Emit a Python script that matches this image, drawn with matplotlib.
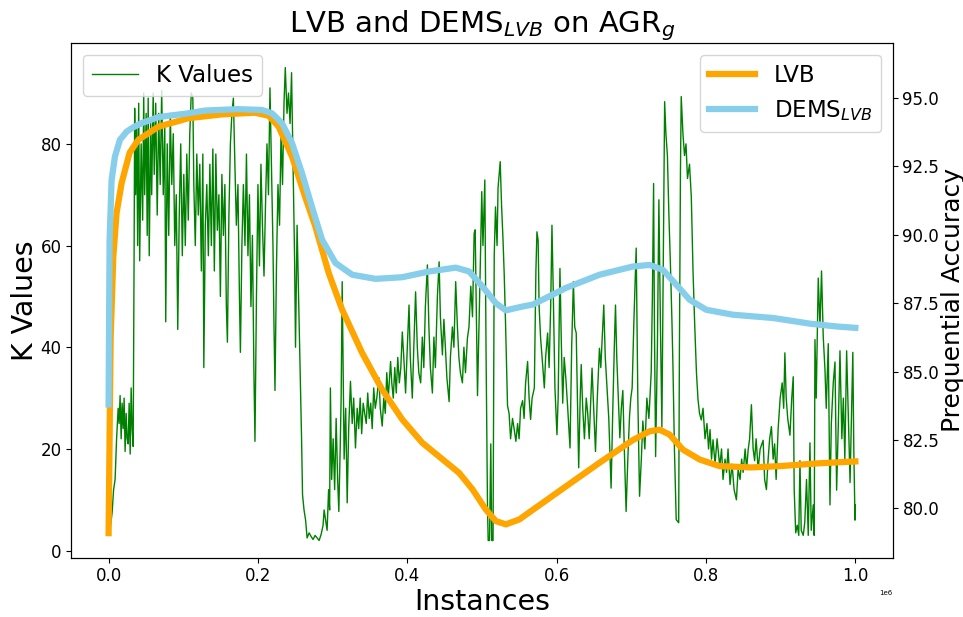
import matplotlib
matplotlib.use('Agg')
import matplotlib.pyplot as plt
import numpy as np

# K value trace: (instances in thousands, K)
k_points = [
    (2.7, 5.0), (4.7, 7.5), (6.7, 12), (8.7, 14), (10.7, 22), (12.8, 28), (14.1, 25), (15.4, 30.5),
    (16.8, 22), (18.1, 29), (19.5, 24), (20.8, 30), (22.1, 19.5), (23.5, 27), (24.8, 22), (26.2, 21),
    (27.5, 29), (28.9, 19), (30.2, 32), (31.5, 24), (32.9, 20.5), (34.2, 60), (34.9, 87), (36.2, 70),
    (37.6, 84), (38.9, 60), (40.3, 88), (41.6, 57), (43.6, 80), (45.6, 65), (47.0, 90), (48.3, 70),
    (50.3, 86), (51.7, 62), (53.0, 89), (54.4, 58), (56.4, 84), (57.7, 70), (59.7, 90), (61.1, 74),
    (63.1, 88), (65.1, 66), (67.1, 86), (69.1, 72), (71.1, 90.5), (73.2, 70), (75.2, 84), (76.5, 45),
    (78.5, 80), (80.5, 62), (82.6, 86), (84.6, 72), (86.6, 82), (88.6, 60), (90.6, 70), (92.6, 43.5),
    (94.6, 66), (96.6, 80), (98.7, 58), (100.7, 74), (102.7, 60), (104.7, 78), (106.7, 65), (108.7, 82),
    (110.7, 90), (112.8, 89), (114.1, 72), (116.1, 60), (118.1, 78), (120.1, 66), (122.1, 76), (124.2, 55),
    (126.2, 78), (127.5, 36), (129.5, 64), (131.5, 72), (133.6, 58), (135.6, 76), (137.6, 60), (139.6, 79),
    (141.6, 55), (143.6, 78), (145.6, 63), (147.7, 70), (149.7, 50), (151.7, 74), (153.7, 62), (155.7, 72),
    (157.7, 48), (159.1, 41), (161.1, 66), (163.1, 80), (165.1, 86), (167.1, 89), (169.1, 76), (171.1, 64),
    (173.2, 72), (175.2, 50), (176.5, 39), (178.5, 60), (180.5, 72), (182.6, 60), (184.6, 78), (186.6, 58),
    (188.6, 70), (190.6, 48), (192.6, 62), (194.6, 35), (196.0, 21.5), (198.0, 50), (200.0, 72), (202.0, 56),
    (204.0, 76), (206.0, 64), (208.1, 54), (210.1, 68), (212.1, 80), (214.1, 70), (216.1, 91), (218.1, 76),
    (220.1, 60), (221.5, 44), (222.8, 31.5), (224.8, 56), (226.8, 72), (228.9, 64), (230.9, 82), (232.9, 72),
    (234.9, 88), (236.6, 95), (238.9, 86), (240.9, 90), (243.0, 84), (245.0, 94), (247.0, 76), (249.0, 58),
    (250.3, 40), (252.4, 64), (254.4, 50), (256.4, 35), (258.4, 22), (259.7, 11), (261.7, 8), (263.8, 6),
    (265.8, 2.5), (268.5, 3.5), (271.1, 2.8), (273.8, 2.2), (276.5, 3.0), (279.2, 2.5), (281.9, 2.0), (284.6, 3.2),
    (287.2, 5), (288.6, 8), (290.6, 6), (292.6, 4), (294.6, 12), (296.0, 8), (297.0, 32), (298.7, 14),
    (300.7, 22), (302.7, 12), (304.7, 26), (306.7, 14), (308.3, 7.7), (310.1, 20), (311.4, 30), (312.8, 52.9),
    (314.1, 35), (315.4, 18), (317.5, 28), (319.5, 9.4), (321.5, 24), (323.9, 33.3), (326.2, 25), (328.2, 30),
    (330.6, 20.2), (332.9, 28), (334.9, 24), (336.9, 30), (338.9, 23), (340.9, 29), (343.0, 27), (345.0, 25),
    (347.0, 31), (349.0, 26), (351.0, 29), (353.0, 24), (355.0, 32), (357.1, 28), (359.1, 30), (362.0, 34),
    (363.8, 28), (366.4, 24.5), (368.5, 30), (370.5, 27), (372.5, 35), (374.5, 30), (377.6, 37.2), (379.2, 33),
    (381.2, 30), (383.2, 36), (385.2, 31), (387.2, 38), (389.3, 33), (391.3, 36), (393.3, 43), (395.3, 38),
    (397.7, 31), (400.0, 40), (402.3, 48.3), (404.0, 38), (406.7, 30), (408.7, 40), (411.1, 50.9), (413.4, 40),
    (415.4, 35), (417.9, 33), (420.1, 42), (422.1, 36), (424.2, 48), (426.9, 56.2), (428.9, 44), (430.9, 36),
    (433.6, 31), (435.6, 42), (437.6, 36), (440.3, 50), (442.6, 56.8), (444.3, 46), (447.0, 38.5), (449.0, 45.5),
    (451.0, 40), (453.0, 34), (456.0, 29.3), (457.7, 38), (460.4, 44), (462.4, 40), (464.8, 52.9), (467.1, 44),
    (469.1, 38), (471.1, 35), (473.8, 33), (475.8, 40), (477.9, 35), (480.5, 41.8), (482.6, 44), (485.0, 52),
    (487.3, 46), (489.5, 62.4), (490.9, 63.1), (492.6, 45), (494.0, 30.5), (496.0, 44), (498.0, 58), (499.7, 70.6),
    (501.3, 60), (503.8, 72.9), (505.4, 40), (507.4, 8.4), (508.3, 2.0), (510.1, 2.0), (511.8, 21), (513.0, 2.0),
    (514.8, 2.0), (516.4, 58), (518.1, 67.6), (520.2, 60), (521.5, 71.3), (524.4, 76.5), (526.2, 68), (528.2, 61),
    (529.8, 54.2), (531.5, 45), (534.2, 28.5), (536.3, 27), (538.3, 22), (540.9, 26), (543.0, 24), (545.4, 21.5),
    (547.7, 25), (549.7, 22), (551.7, 28), (554.4, 29.5), (556.4, 26), (558.4, 33), (561.1, 37.2), (563.1, 30),
    (565.1, 25.8), (567.1, 30), (570.1, 32), (572.2, 55), (573.6, 62.7), (575.2, 61), (576.5, 48), (578.5, 41.8),
    (580.5, 38), (583.5, 32), (585.2, 38), (587.9, 42.8), (589.9, 36), (592.0, 48), (593.7, 64), (595.3, 52),
    (597.7, 32), (600.4, 22.8), (602.0, 30), (604.4, 55.5), (606.1, 42), (608.1, 29), (610.1, 38), (612.5, 33.5),
    (614.8, 28), (617.9, 20.2), (620.1, 40), (622.4, 52.9), (624.2, 44), (626.2, 42.8), (629.5, 16.3), (631.5, 30),
    (632.9, 36.6), (634.9, 28), (637.2, 22), (639.6, 30), (641.6, 27), (643.6, 22), (647.4, 35.9), (649.0, 30),
    (652.0, 19.5), (654.4, 30), (657.3, 39.8), (659.1, 36), (661.1, 42), (663.1, 48.3), (665.1, 38), (667.1, 33),
    (669.8, 26), (672.9, 12.3), (675.2, 28), (677.2, 40), (678.8, 48.3), (680.5, 38), (682.6, 30), (684.6, 22.2),
    (686.6, 28), (688.6, 31.5), (690.6, 20), (693.0, 7.7), (695.3, 18), (697.6, 26.5), (699.3, 30), (701.1, 32),
    (703.4, 45), (706.5, 59.5), (708.7, 30), (711.0, 10.7), (713.4, 18), (715.4, 25.5), (718.1, 20), (720.8, 30),
    (723.5, 26), (726.6, 35), (728.2, 50), (729.8, 72.2), (730.9, 45), (732.5, 18.5), (734.9, 40), (736.9, 69),
    (738.9, 45), (740.9, 24.3), (742.9, 60), (744.6, 88.3), (746.3, 82), (748.3, 77.7), (750.3, 66), (752.4, 56),
    (754.4, 45), (755.7, 36.5), (757.7, 20), (760.1, 6.1), (763.4, 5.5), (764.4, 40), (765.8, 75), (766.8, 89.3),
    (769.1, 82), (771.2, 77.7), (773.2, 80), (775.2, 73.2), (777.9, 76), (780.3, 69.6), (782.6, 55), (784.8, 44.7),
    (787.2, 35), (789.3, 29.7), (791.3, 27), (793.7, 25.7), (796.0, 28), (798.7, 22), (801.3, 25), (803.4, 20),
    (805.4, 23.8), (807.4, 18), (809.4, 21.8), (812.1, 17), (814.8, 22), (818.4, 16.6), (820.8, 20), (822.8, 14),
    (825.5, 18), (827.5, 15.4), (829.5, 20), (832.2, 13), (834.9, 17), (837.6, 12), (840.7, 10), (843.0, 16),
    (845.6, 14), (847.7, 18), (849.7, 15.4), (852.4, 20), (854.4, 16), (856.4, 19.8), (858.4, 22), (860.8, 28.7),
    (863.1, 20), (865.1, 17.7), (867.1, 22), (869.8, 16), (872.5, 20), (876.5, 21.7), (878.5, 14), (880.9, 12),
    (883.2, 18), (885.2, 22), (887.6, 24.4), (889.9, 18), (891.9, 21), (893.9, 14), (896.6, 24), (899.3, 30),
    (902.0, 33), (904.0, 28), (905.6, 38.9), (907.4, 30), (909.4, 26), (912.4, 22.7), (914.8, 30), (916.8, 34.2),
    (918.1, 12), (920.1, 3.5), (922.2, 5), (924.2, 3), (925.8, 17.7), (927.5, 4), (930.2, 3), (932.2, 5.5),
    (934.6, 14), (936.9, 3), (939.2, 21.2), (940.9, 4), (943.6, 9), (944.9, 3), (945.9, 41.5), (947.6, 30),
    (950.3, 53.6), (952.6, 44), (954.7, 55), (957.0, 42), (959.3, 35.6), (961.0, 28), (963.7, 40.7), (966.0, 9),
    (967.8, 25), (970.4, 33), (972.7, 37.1), (974.9, 11.9), (977.2, 25), (979.4, 39.3), (981.9, 22), (983.9, 30),
    (985.9, 18), (988.3, 39.3), (990.6, 26), (992.9, 13.4), (995.3, 30), (996.6, 39), (997.9, 20), (999.5, 6),
    (1000.0, 9),
]

# prequential accuracy: (instances in thousands, accuracy %)
lvb_points = [
    (0, 79.1), (2.7, 86.2), (6.3, 89.2), (10.7, 90.8), (17.5, 91.9), (28.2, 93.0), (39.8, 93.47),
    (66.7, 93.95), (107, 94.26), (151.7, 94.4), (196, 94.46), (214.3, 94.35), (227.7, 93.95),
    (245.6, 92.86), (263, 91.4), (276.9, 90.3), (294.8, 88.6), (312.8, 87.26), (339.6, 85.68),
    (366.4, 84.34), (393.3, 83.25), (420.1, 82.4), (447, 81.8), (469.4, 81.3), (487.3, 80.7),
    (505.2, 79.96), (518.6, 79.54), (532, 79.42), (550, 79.6), (568, 79.95), (581, 80.2),
    (612.5, 80.81), (657.3, 81.67), (702, 82.5), (724.4, 82.82), (737.8, 82.88), (751.2, 82.7),
    (769.1, 82.15), (791.5, 81.79), (818, 81.55), (860, 81.5), (900, 81.55), (950, 81.65), (1000, 81.72),
]

dems_points = [
    (0, 83.8), (1.3, 89.8), (4.0, 92.0), (8.5, 92.86), (15.2, 93.47), (24.2, 93.77), (33.2, 93.93),
    (44.3, 94.08), (66.7, 94.3), (107, 94.44), (129.3, 94.54), (174, 94.59), (205.3, 94.56),
    (218.7, 94.44), (232.1, 94.08), (245.6, 93.35), (259, 92.25), (272.5, 91.0), (285.9, 89.82),
    (303.8, 88.97), (326.2, 88.54), (357.5, 88.39), (393.3, 88.45), (429.2, 88.66), (464.9, 88.8),
    (482.8, 88.66), (500.7, 88.11), (518.6, 87.5), (532, 87.24), (554.4, 87.38), (568, 87.45),
    (581.2, 87.63), (612.5, 88.06), (657.3, 88.54), (702, 88.84), (724.4, 88.9), (742.3, 88.72),
    (760.1, 88.18), (778, 87.63), (800.3, 87.26), (836, 87.08), (889.9, 86.96), (940, 86.75),
    (975, 86.65), (1000, 86.6),
]


def unpack(points):
    arr = np.array(points, dtype=float)
    return arr[:, 0] * 1000, arr[:, 1]


k_x, k_y = unpack(k_points)
lvb_x, lvb_y = unpack(lvb_points)
dems_x, dems_y = unpack(dems_points)

fig, ax1 = plt.subplots(figsize=(9.63, 6.17), dpi=100)

ax1.plot(k_x, k_y, color='green', linewidth=1, label='K Values')
ax1.set_ylim(-1.4, 99.8)
ax1.set_xlabel('Instances', fontsize=20.5, labelpad=2)
ax1.set_ylabel('K Values', fontsize=20.5, labelpad=1)
ax1.tick_params(labelsize=12)
ax1.xaxis.get_offset_text().set_fontsize(5)

ax2 = ax1.twinx()
ax2.plot(lvb_x, lvb_y, color='orange', linewidth=4.5, label='LVB')
ax2.plot(dems_x, dems_y, color='skyblue', linewidth=4.5, label='DEMS$_{LVB}$')
ax2.set_ylim(78.2, 97.0)
ax2.set_ylabel('Prequential Accuracy', fontsize=18, labelpad=1)
ax2.tick_params(labelsize=12)

ax1.legend(loc='upper left', fontsize=16.5)
ax2.legend(loc='upper right', fontsize=16.5)

ax1.set_title('LVB and DEMS$_{LVB}$ on AGR$_g$', fontsize=21)

fig.subplots_adjust(left=0.074, right=0.927, top=0.930, bottom=0.096)
fig.savefig('out.png', dpi=100)
